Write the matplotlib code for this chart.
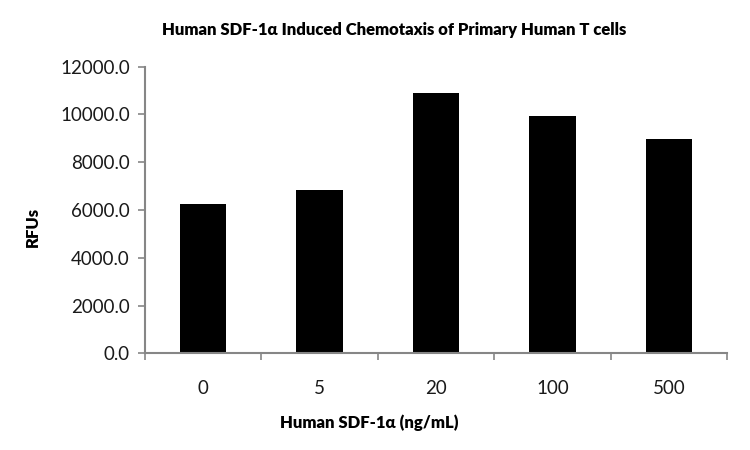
import matplotlib
matplotlib.use("Agg")
import matplotlib.pyplot as plt
import numpy as np

# 数据
doses = ["0", "5", "20", "100", "500"]
rfus = [6250, 6840, 10910, 9940, 8975]
y_ticks = [0, 2000, 4000, 6000, 8000, 10000, 12000]

plt.rcParams["font.family"] = ["Lato", "DejaVu Sans"]

fig = plt.figure(figsize=(7.5, 4.5), dpi=100)
# 坐标区: 左 145px, 右 727px, 底 353px, 顶 67px
ax = fig.add_axes([145 / 750, (450 - 353.3) / 450, (727 - 145) / 750, (353.3 - 66.7) / 450])

x = np.arange(len(doses))
ax.bar(x, rfus, width=0.4, color="black")

ax.set_xlim(-0.5, len(doses) - 0.5)
ax.set_ylim(0, 12000)
ax.set_yticks(y_ticks)
ax.set_yticklabels([f"{v:.1f}" for v in y_ticks], fontsize=13.5, color="#1a1a1a")

# x轴刻度在类别之间
ax.set_xticks(np.arange(-0.5, len(doses)), minor=False)
ax.set_xticklabels([""] * (len(doses) + 1))
ax.set_xticks(x, minor=True)
ax.set_xticklabels(doses, minor=True, fontsize=13.5, color="#1a1a1a")
ax.tick_params(axis="x", which="minor", length=0, pad=19)
ax.tick_params(axis="x", which="major", length=5, width=1.2, color="#868686", direction="out")
ax.tick_params(axis="y", length=5, width=1.2, color="#868686", direction="out", pad=6)

for side in ["top", "right"]:
    ax.spines[side].set_visible(False)
for side in ["left", "bottom"]:
    ax.spines[side].set_color("#868686")
    ax.spines[side].set_linewidth(1.5)

fig.text(394 / 750, 1 - 30 / 450, "Human SDF-1α Induced Chemotaxis of Primary Human T cells",
         ha="center", va="center", fontsize=12, fontweight="heavy")
fig.text(369 / 750, 1 - 423 / 450, "Human SDF-1α (ng/mL)",
         ha="center", va="center", fontsize=12, fontweight="heavy")
fig.text(33 / 750, 1 - 227 / 450, "RFUs", rotation=90,
         ha="center", va="center", fontsize=12, fontweight="heavy")

plt.savefig("out.png", dpi=100)
